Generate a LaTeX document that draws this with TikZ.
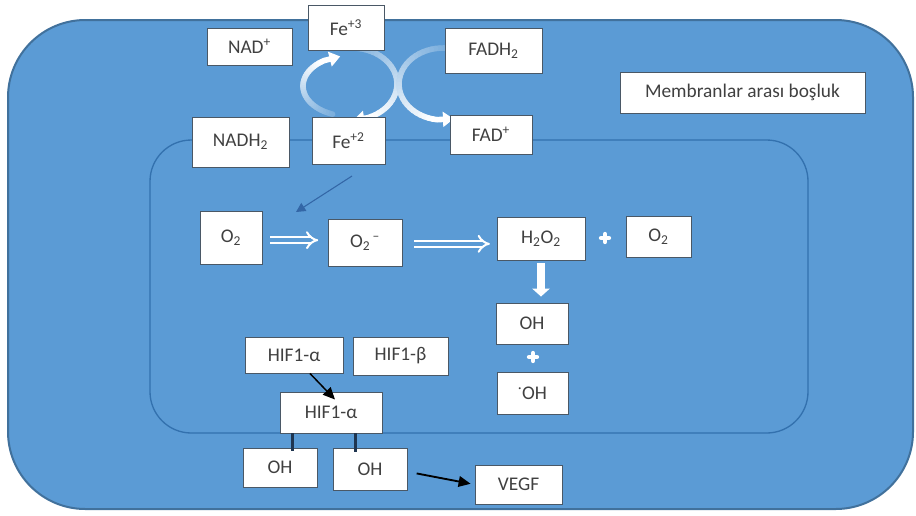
\documentclass[tikz,border=0pt]{standalone}
\usepackage{fontspec}
\setmainfont{Carlito}
\usetikzlibrary{arrows.meta,calc,decorations.pathmorphing}

\definecolor{cellblue}{HTML}{5B9BD5}
\definecolor{celledge}{HTML}{41719C}
\definecolor{matrixedge}{HTML}{3371AE}
\definecolor{boxedge}{HTML}{4A5866}
\definecolor{txt}{HTML}{404040}
\definecolor{navy}{HTML}{1F3550}
\definecolor{fluxblue}{HTML}{3366A6}

\newlength\memall
\newlength\memword
\newcommand\labelfont{\fontsize{14.5}{17}\selectfont}

% white box given by its corners (x1,y1) (x2,y2) in pixel units
\newcommand\pbox[6]{%
  \node[box, minimum width={(#4-#2)*0.75pt}, minimum height={(#5-#3)*0.75pt}]
    (#1) at ({(#2+#4)/2},{(#3+#5)/2}) {#6};}

% shaded elliptic arc: centre (#1,#2), radii #3,#4, from angle #5 to #6, tip at #7
\newcommand\fluxarc[7]{%
  \foreach \k in {0,...,29}{%
    \pgfmathsetmacro\ta{#5+(#6-#5)*\k/30}%
    \pgfmathsetmacro\tb{#5+(#6-#5)*(\k+1)/30}%
    \pgfmathtruncatemacro\pc{20+80*\k/29}%
    \draw[line width=4.2pt, line cap=round, white!\pc!cellblue]
      ({#1+#3*cos(\ta)},{#2-#4*sin(\ta)}) -- ({#1+#3*cos(\tb)},{#2-#4*sin(\tb)});
  }%
  \draw[white, line width=4.2pt, -{Triangle[length=8pt,width=11pt]}]
    ({#1+#3*cos(#6)},{#2-#4*sin(#6)}) -- ({#1+#3*cos(#7)},{#2-#4*sin(#7)});
}

\tikzset{
  box/.style={draw=boxedge, fill=white, line width=0.7pt, text=txt,
    inner sep=0pt, font=\labelfont},
  plusmark/.style={minimum size=11pt, inner sep=0pt,
    path picture={
      \draw[white, line width=3.2pt, line cap=round]
        ([xshift=-3pt]path picture bounding box.center) -- ([xshift=3pt]path picture bounding box.center)
        ([yshift=-3pt]path picture bounding box.center) -- ([yshift=3pt]path picture bounding box.center);}},
  hollowarrow/.style={draw=white, line width=1.5pt, double=cellblue,
    double distance=3pt, -{Implies}},
  blackarrow/.style={black, line width=1.1pt, -{Triangle[length=9pt,width=8pt]}},
}

\begin{document}
\begin{tikzpicture}[x=0.75pt, y=-0.75pt]
  \fill[white] (0,0) rectangle (916,515);
  \useasboundingbox (0,0) rectangle (916,515);

  % cell and inner compartment
  \draw[celledge, fill=cellblue, line width=1.5pt, rounded corners=58pt]
    (8,20) rectangle (913,509);
  \draw[matrixedge, line width=1pt, rounded corners=31pt]
    (150,140) rectangle (808,433);

  % iron cycle and FADH2 -> FAD+
  \fluxarc{348}{86}{45}{30}{250}{122}{100}
  \fluxarc{352}{84}{45}{36}{95}{-70}{-88}
  \fluxarc{443}{84}{44}{36}{88}{262}{284}

  % boxes
  \pbox{nad}{207}{28}{292}{65}{NAD\textsuperscript{+}}
  \pbox{fe3}{308}{5}{384}{50}{Fe\textsuperscript{+3}}
  \pbox{fadh}{445}{28}{542}{73}{FADH\textsubscript{2}}
  \pbox{nadh}{192}{117}{289}{167}{NADH\textsubscript{2}}
  \pbox{fe2}{312}{117}{385}{164}{Fe\textsuperscript{+2}}
  \pbox{fad}{450}{115}{532}{154}{FAD\textsuperscript{+}}
  \pbox{mem}{620}{72}{865}{113}{Membranlar arası boşluk}

  \pbox{o2}{200}{211}{262}{264}{O\textsubscript{2}}
  \pbox{o2m}{328}{219}{402}{266}{O\textsubscript{2}\textsuperscript{\,–}}
  \pbox{h2o2}{497}{217}{585}{260}{H\textsubscript{2}O\textsubscript{2}}
  \pbox{o2b}{626}{216}{691}{257}{O\textsubscript{2}}
  \pbox{oh1}{496}{303}{568}{344}{OH}
  \pbox{oh2}{497}{372}{568}{414}{\textsuperscript{·}OH}

  \pbox{hifa}{245}{337}{343}{373}{HIF1-α}
  \pbox{hifb}{353}{337}{448}{375}{HIF1-β}
  \pbox{hifa2}{280}{392}{382}{433}{HIF1-α}
  \pbox{ohl}{243}{448}{317}{487}{OH}
  \pbox{ohr}{333}{448}{407}{490}{OH}
  \pbox{vegf}{475}{465}{562}{504}{VEGF}

  % spell-check underline
  \settowidth\memall{\labelfont Membranlar arası boşluk}
  \settowidth\memword{\labelfont Membranlar}
  \draw[red!85!black, line width=0.45pt, decorate,
        decoration={snake, amplitude=0.45pt, segment length=2.2pt}]
    ([xshift=-0.5\memall, yshift=-2.6pt]mem.base) -- ++(\memword,0);

  % plus signs
  \node[plusmark] (plusa) at (605,238) {};
  \node[plusmark] (plusb) at (533,357) {};

  % reaction arrows
  \draw[hollowarrow, shorten <=6pt, shorten >=7pt]
    ([yshift=-2pt]o2.east) -- ([yshift=-2pt]o2.east -| o2m.west);
  \draw[hollowarrow, shorten <=9pt, shorten >=5pt]
    ([yshift=-1pt]o2m.east) -- ([yshift=-1pt]o2m.east -| h2o2.west);
  \draw[white, line width=5.5pt, -{Triangle[length=6pt,width=13pt]},
        shorten <=2pt, shorten >=4.5pt]
    (h2o2.south) -- (h2o2.south |- oh1.north);

  % electron leak towards O2
  \coordinate (leak) at (352,176);
  \coordinate (leaktip) at (296,212);
  \draw[fluxblue, line width=0.8pt, -{Triangle[length=7pt,width=7pt]}]
    (leak) -- (leaktip);

  % HIF pathway
  \draw[blackarrow] ([xshift=12pt]hifa.south) -- ($(hifa2.north)+(4,8)$);
  \draw[navy, line width=2pt] ($(hifa2.south west)+(13,0)$) -- ++(0,18);
  \draw[navy, line width=2pt] ($(hifa2.south west)+(76,0)$) -- ++(0,19);
  \draw[blackarrow, line width=1.4pt, shorten <=7pt, shorten >=3pt]
    ([yshift=-2pt]ohr.east) -- (vegf.west);
\end{tikzpicture}
\end{document}
